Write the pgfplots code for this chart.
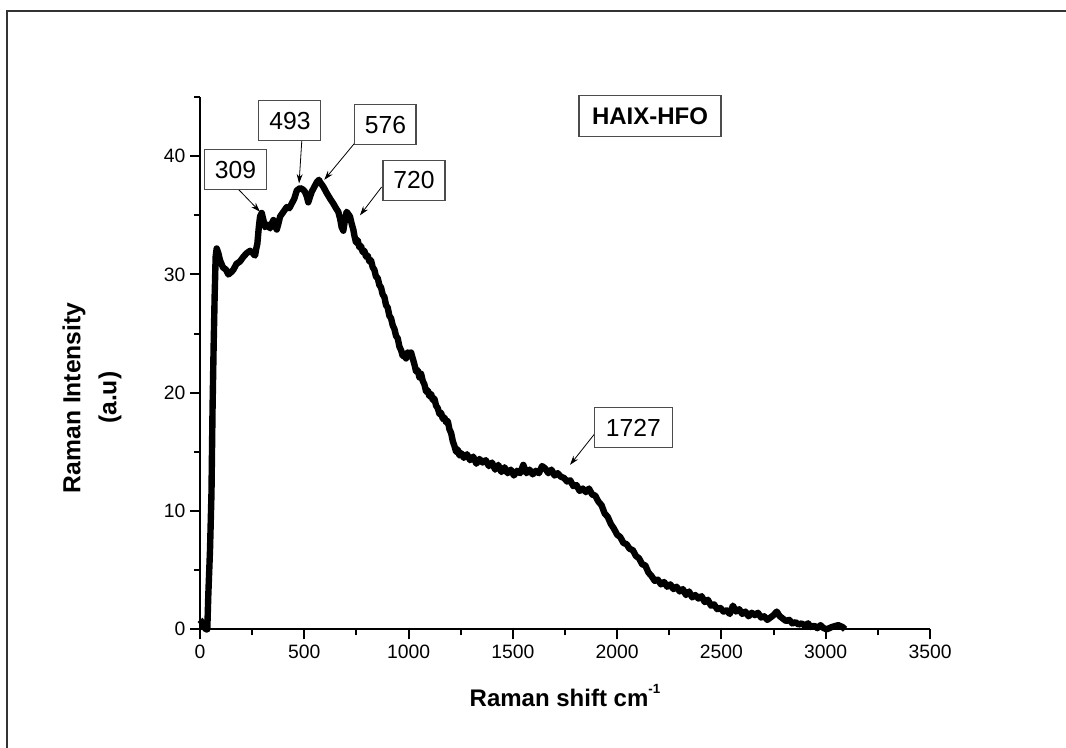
\documentclass[border=0pt]{standalone}
\usepackage{pgfplots}
\pgfplotsset{compat=1.18}
\usepackage{fontspec}
\setmainfont{Liberation Sans}
\usetikzlibrary{arrows.meta}
\begin{document}
\begin{tikzpicture}
\useasboundingbox (0,0) rectangle (799.5pt,-560.25pt);
\draw[line width=1.5pt, black!80] (5pt,-700pt) -- (5pt,-8.25pt) -- (900pt,-8.25pt);
\begin{axis}[
  at={(150pt,-471.975pt)}, anchor=south west,
  scale only axis, width=547.5pt, height=399.2pt,
  xmin=0, xmax=3500, ymin=0, ymax=45,
  axis lines=left, axis line style={line width=1.5pt, -},
  xtick={0,500,...,3500}, ytick={0,10,...,40},
  minor xtick={250,750,...,3250}, minor ytick={5,15,...,45},
  tick style={line width=1.5pt, black},
  tick align=outside,
  major tick length=7.5pt, minor tick length=4.5pt,
  tick label style={font=\fontsize{14.5}{16}\selectfont},
  /pgf/number format/assume math mode=true,
  scaled ticks=false,
  xticklabel style={/pgf/number format/1000 sep={}, yshift=-1pt},
  xlabel={Raman shift cm\raisebox{0.55em}{\fontsize{10}{11}\selectfont -1}},
  xlabel style={font=\fontsize{18}{21}\selectfont\bfseries, at={(axis description cs:0.5,-0.125)}, anchor=center},
  ylabel={Raman Intensity\\(a.u)},
  ylabel style={font=\fontsize{18.5}{27}\selectfont\bfseries, align=center, at={(axis description cs:-0.148,0.435)}, anchor=center, rotate=0},
  clip=false,
]
\addplot[black, line width=4.8pt, line join=round] coordinates {
(0,0.8)(10,0.6)(20,0.2)(28,0)(35,0)(40,3)(48,6.7)(55,11.5)(60,18.5)(65,23.6)(70,28)(75,31.5)(80,32.2)(88,31.8)(96,31.2)(110,30.6)(125,30.4)(136,30.0)(150,30.2)(160,30.4)(175,30.9)(192,31.1)(208,31.5)(224,31.8)(240,32.0)(248,31.9)(258,31.7)(264,31.6)(270,32.2)(275,32.6)(282,34.0)(288,34.9)(296,35.2)(304,34.6)(312,34.0)(324,34.2)(336,33.9)(344,34.3)(352,34.6)(360,34.1)(368,33.8)(376,34.3)(384,34.9)(400,35.3)(416,35.7)(428,35.6)(440,36.0)(452,36.4)(464,37.1)(480,37.3)(492,37.2)(503,37.0)(512,36.6)(519,36.1)(528,36.6)(536,37.0)(548,37.4)(560,37.8)(570,38.0)(576,37.8)(592,37.4)(607,36.9)(624,36.4)(639,36.0)(652,35.6)(663,35.3)(672,34.7)(679,34.0)(687,33.7)(695,34.6)(703,35.3)(711,35.1)(719,34.9)(727,34.3)(735,33.8)
(740,33.3)(748,32.7)(756,32.9)(764,32.3)(772,32.4)(780,31.9)(788,32.0)(796,31.5)(804,31.6)(812,31.1)(820,31.2)(828,30.6)(836,30.4)(844,29.8)(852,29.7)(860,29.1)(868,28.9)(876,28.3)(884,28.1)(892,27.4)(900,27.2)(908,26.5)(916,26.3)(924,25.7)(932,25.4)(940,24.8)(948,24.6)(956,23.9)(964,23.6)(972,23.1)(980,23.3)(988,22.9)(996,23.4)(1004,23.1)(1012,23.4)(1020,22.9)(1028,22.4)(1036,21.8)(1044,21.9)(1052,21.3)(1060,21.6)(1068,21.0)(1076,20.7)(1084,20.1)(1092,20.2)(1100,19.7)(1108,19.9)(1116,19.4)(1124,19.5)(1132,18.9)(1140,18.7)(1148,18.2)(1156,18.3)(1164,17.8)(1172,17.9)(1180,17.5)(1188,17.6)(1196,16.9)(1204,16.6)(1212,15.9)(1220,15.5)(1228,15.0)(1236,15.2)(1244,14.7)(1252,14.9)
(1265,14.5)(1280,14.8)(1295,14.3)(1310,14.6)(1325,14.0)(1340,14.4)(1355,14.1)(1370,14.3)(1385,13.8)(1400,14.1)(1415,13.5)(1430,13.9)(1445,13.3)(1460,13.7)(1475,13.2)(1490,13.5)(1505,13.0)(1520,13.4)(1535,13.2)(1550,13.9)(1565,13.2)(1580,13.5)(1595,13.1)(1610,13.4)(1625,13.2)(1640,13.8)(1655,13.6)(1670,13.2)(1685,13.5)(1700,13.0)(1715,13.2)(1730,12.9)(1745,12.8)(1760,12.5)(1775,12.6)(1790,12.1)(1805,12.2)(1820,11.7)(1835,11.9)(1850,11.6)(1865,11.9)(1880,11.4)(1895,11.3)(1910,10.8)(1925,10.5)(1940,9.8)(1955,9.5)(1970,8.9)(1985,8.5)(2000,8.0)(2015,7.8)(2030,7.3)(2045,7.2)(2060,6.8)(2075,6.7)(2090,6.2)(2105,6.0)(2120,5.5)(2135,5.4)(2150,4.8)(2165,4.5)(2180,4.1)(2195,4.2)(2210,3.8)(2225,4.0)(2240,3.6)(2255,3.8)(2270,3.4)(2285,3.6)(2300,3.2)(2315,3.4)(2330,2.9)(2345,3.2)(2360,2.7)(2375,2.9)(2390,2.6)(2405,2.8)(2420,2.3)(2435,2.5)(2450,2.0)(2465,2.1)(2480,1.7)(2495,1.8)(2510,1.5)(2525,1.6)(2540,1.3)(2555,2.0)(2570,1.5)(2585,1.7)(2600,1.3)(2615,1.5)(2630,1.1)(2645,1.4)(2660,1.2)(2675,1.4)(2690,1.0)(2705,1.1)(2720,0.8)(2735,1.0)(2750,1.2)(2765,1.5)(2780,1.1)(2795,0.9)(2810,0.7)(2825,0.8)(2840,0.5)(2855,0.6)(2870,0.4)(2885,0.5)(2900,0.3)(2915,0.5)(2930,0.2)(2945,0.3)(2960,0.1)(2975,0.35)(2990,0.1)(3005,0)(3030,0.2)(3060,0.35)(3080,0.2)(3093,0)
};
\tikzset{lbl/.style={draw=black!70, line width=0.9pt, fill=white, inner sep=0pt, minimum height=30pt, font=\fontsize{18.5}{20}\selectfont},
         arr/.style={line width=0.6pt, -{Stealth[length=7pt,width=4.5pt]}}}
\draw[arr] (axis cs:184,37.2) -- (axis cs:288,35.3);
\draw[arr] (axis cs:488,41.3) -- (axis cs:475,37.7);
\draw[arr] (axis cs:746,41.2) -- (axis cs:596,38.0);
\draw[arr] (axis cs:871,37.4) -- (axis cs:767,35.0);
\draw[arr] (axis cs:1894,16.57) -- (axis cs:1774,13.9);
\node[lbl, minimum width=46pt] at (axis cs:170,38.87) {309};
\node[lbl, minimum width=46.5pt] at (axis cs:431,43.0) {493};
\node[lbl, minimum width=46pt] at (axis cs:889,42.67) {576};
\node[lbl, minimum width=46.5pt] at (axis cs:1026,37.95) {720};
\node[lbl, minimum width=58.5pt] at (axis cs:2078,17.03) {1727};
\node[lbl, minimum width=106.5pt, minimum height=30.75pt, font=\fontsize{18}{20}\selectfont\bfseries] at (axis cs:2157.5,43.37) {HAIX-HFO};
\end{axis}
\end{tikzpicture}
\end{document}
